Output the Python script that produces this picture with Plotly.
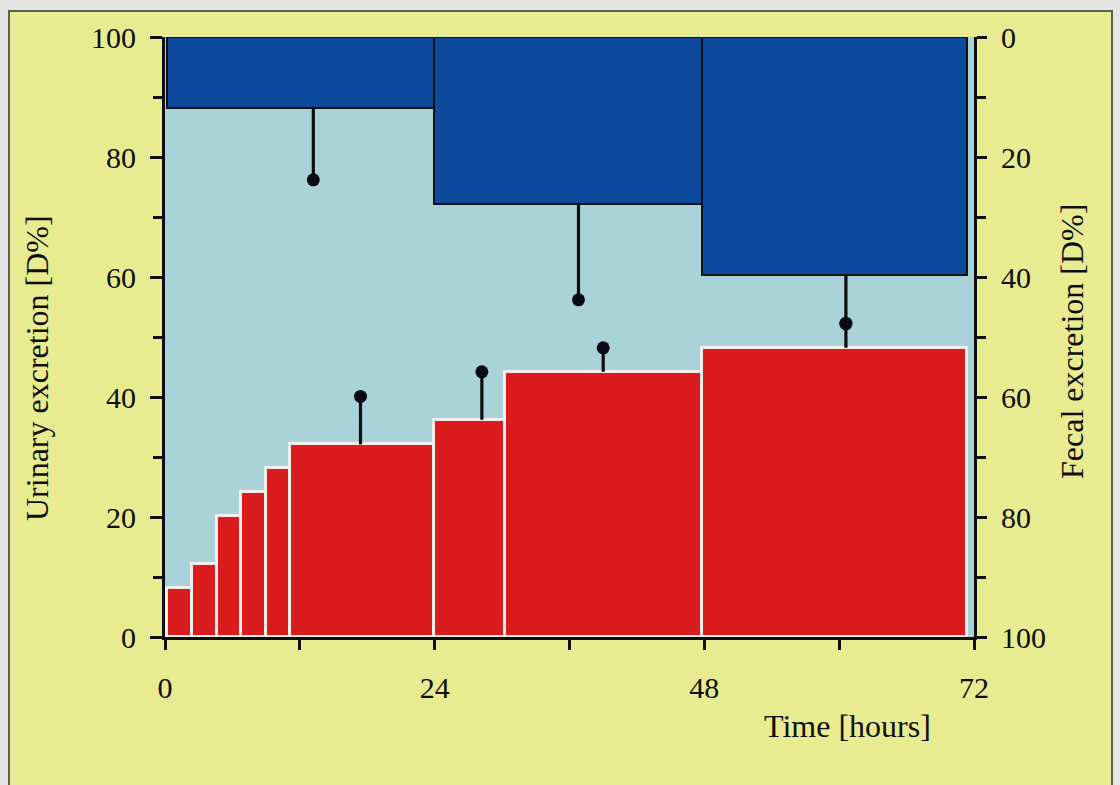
import plotly.graph_objects as go

# ---- data (hours, D%) ----
urine_start = [0.2, 2.4, 4.6, 6.8, 9.0, 11.1, 23.9, 30.3, 47.8]
urine_end = [2.4, 4.6, 6.8, 9.0, 11.1, 23.9, 30.3, 47.8, 71.4]
urine_cum = [8.2, 12.2, 20.1, 24.1, 28.1, 32.1, 36.2, 44.2, 48.2]

urine_err_time = [17.4, 28.2, 39.0, 60.6]
urine_err_mean = [32.1, 36.2, 44.2, 48.2]
urine_err_sd = [8.0, 8.0, 4.0, 4.0]

feces_start = [0.2, 23.9, 47.8]
feces_end = [23.9, 47.8, 71.4]
feces_cum = [11.8, 27.8, 39.7]

feces_err_time = [13.2, 36.8, 60.6]
feces_err_sd = [12.0, 16.0, 8.0]

x_ticks = [0, 24, 48, 72]
y_ticks = [0, 20, 40, 60, 80, 100]

# ---- styling ----
FONT = "Liberation Serif"
YELLOW = "#e8eb8f"
PLOTBG = "#a9d2d9"
RED = "#db1c1e"
BLUE = "#0d4a9d"
INK = "#0e0e0e"

u_centers = [(a + b) / 2 for a, b in zip(urine_start, urine_end)]
u_widths = [b - a for a, b in zip(urine_start, urine_end)]
f_centers = [(a + b) / 2 for a, b in zip(feces_start, feces_end)]
f_widths = [b - a for a, b in zip(feces_start, feces_end)]

fig = go.Figure()

fig.add_trace(go.Bar(
    x=u_centers, y=urine_cum, width=u_widths,
    marker=dict(color=RED, line=dict(color="#f2eeea", width=3)),
    xaxis="x", yaxis="y", hoverinfo="skip",
))

fig.add_trace(go.Scatter(
    x=urine_err_time,
    y=[m + s for m, s in zip(urine_err_mean, urine_err_sd)],
    mode="markers",
    marker=dict(color="#0b0b18", size=13),
    error_y=dict(type="data", symmetric=False, array=[0] * len(urine_err_sd),
                 arrayminus=urine_err_sd, color=INK, thickness=3.2, width=0),
    xaxis="x", yaxis="y", hoverinfo="skip",
))

fig.add_trace(go.Bar(
    x=f_centers, y=feces_cum, width=f_widths, base=0,
    marker=dict(color=BLUE, line=dict(color="#111111", width=2)),
    xaxis="x", yaxis="y2", hoverinfo="skip",
))

fig.add_trace(go.Scatter(
    x=feces_err_time,
    y=[m + s for m, s in zip(feces_cum, feces_err_sd)],
    mode="markers",
    marker=dict(color="#0b0b18", size=13),
    error_y=dict(type="data", symmetric=False, array=[0] * len(feces_err_sd),
                 arrayminus=feces_err_sd, color=INK, thickness=3.2, width=0),
    xaxis="x", yaxis="y2", hoverinfo="skip",
))

L, R, T, B = 165, 146, 37, 148
PW, PH = 1120 - L - R, 785 - T - B

def px(x):
    return (x - L) / PW

def py(y):
    return (785 - B - y) / PH

tickfont = dict(family=FONT, size=30, color=INK)
titlefont = dict(family=FONT, size=32, color=INK)
axis_common = dict(showline=True, linecolor=INK, linewidth=3,
                   showgrid=False, zeroline=False, ticks="outside",
                   tickcolor=INK, tickwidth=2.5, tickfont=tickfont)
minor_common = dict(ticks="outside", tickwidth=2.5, tickcolor=INK)

fig.update_layout(
    width=1120, height=785,
    margin=dict(l=L, r=R, t=T, b=B, pad=0),
    paper_bgcolor="#e4e4e2",
    plot_bgcolor=PLOTBG,
    showlegend=False,
    bargap=0,
    barmode="overlay",
    xaxis=dict(range=[0, 72], tickvals=x_ticks, ticklen=10,
               minor=dict(dtick=12, tick0=0, ticklen=10, **minor_common),
               ticklabelstandoff=12, **axis_common),
    yaxis=dict(range=[0, 100], tickvals=y_ticks, ticklen=12,
               minor=dict(dtick=10, tick0=0, ticklen=9, **minor_common),
               ticklabelstandoff=8, **axis_common),
    yaxis2=dict(range=[100, 0], tickvals=y_ticks, ticklen=10, overlaying="y",
                side="right", anchor="x",
                minor=dict(dtick=10, tick0=0, ticklen=9, **minor_common),
                ticklabelstandoff=8, **axis_common),
    shapes=[
        dict(type="rect", xref="paper", yref="paper", layer="below",
             x0=px(9), x1=px(1112), y0=py(800), y1=py(11),
             fillcolor=YELLOW, line=dict(color="#5e5e58", width=2)),
        dict(type="rect", xref="paper", yref="paper", layer="below",
             x0=0, x1=1, y0=0, y1=1,
             fillcolor=PLOTBG, line=dict(width=0)),
    ],
    annotations=[
        dict(text="Urinary excretion [D%]", xref="paper", yref="paper",
             x=px(37), y=py(368), textangle=-90, showarrow=False,
             xanchor="center", yanchor="middle", font=titlefont),
        dict(text="Fecal excretion [D%]", xref="paper", yref="paper",
             x=px(1072), y=py(342), textangle=-90, showarrow=False,
             xanchor="center", yanchor="middle", font=titlefont),
        dict(text="Time [hours]", xref="paper", yref="paper",
             x=px(847), y=py(726), showarrow=False,
             xanchor="center", yanchor="middle", font=titlefont),
    ],
)

fig.write_html("out.html")
